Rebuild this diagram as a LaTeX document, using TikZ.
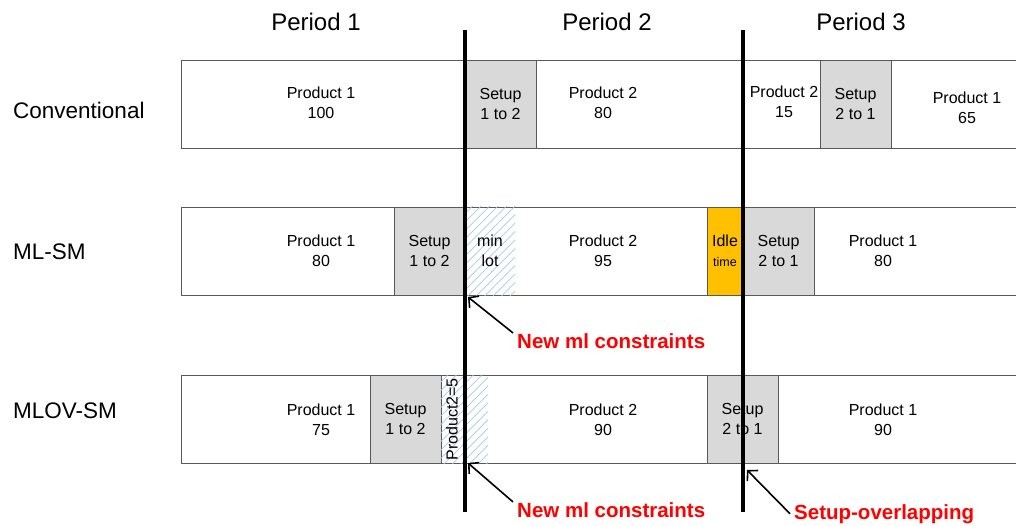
\documentclass[tikz,border=0pt]{standalone}
\usepackage{fontspec}
\setmainfont{Liberation Sans}
\usetikzlibrary{arrows.meta,patterns.meta}
\definecolor{setupc}{HTML}{D9D9D9}
\definecolor{idlec}{HTML}{FFC000}
\definecolor{hatchc}{HTML}{A9C6E6}
\definecolor{linec}{HTML}{595959}
\definecolor{notec}{HTML}{FF0000}
\tikzset{
  bar/.style={draw=linec,anchor=north west,minimum width=860pt,minimum height=88pt,inner sep=0pt},
  su/.style={draw=linec,fill=setupc,minimum width=71pt,minimum height=88pt,inner sep=0pt,align=center,font=\fontsize{16}{19.5}\selectfont},
  pr/.style={align=center,inner sep=0pt,font=\fontsize{16}{19.5}\selectfont},
  ht/.style={pattern={Lines[angle=45,distance=6pt,line width=0.7pt]},pattern color=hatchc,minimum height=88pt,inner sep=0pt,align=center,font=\fontsize{16}{19.5}\selectfont},
  per/.style={anchor=base,inner sep=0pt,font=\fontsize{24}{28}\selectfont},
  rowl/.style={anchor=base west,inner sep=0pt,font=\fontsize{22.5}{27}\selectfont},
  note/.style={anchor=base west,inner sep=0pt,text=notec,font=\fontsize{20.5}{24}\selectfont\bfseries},
  ar/.style={-{Straight Barb[length=7pt,width=15pt]},line width=1.6pt},
  vl/.style={line width=3.6pt}
}
\begin{document}
\begin{tikzpicture}[x=1pt,y=-1pt]
\useasboundingbox (0,0) rectangle (1016,526);
% headings and rows
\foreach \k/\x in {1/316,2/607,3/861} \node[per] (per\k) at (\x,31) {Period \k};
\foreach \n/\t/\y in {conv/Conventional/119,ml/ML-SM/260,mlov/MLOV-SM/418} \node[rowl] (lab\n) at (13,\y) {\t};
\foreach \n/\y in {conv/60,ml/207,mlov/375} \node[bar] (bar\n) at (181,\y) {};
% Conventional
\node[pr] (c1) at (321,103) {Product 1\\100};
\node[su] (c2) at (500.5,104) {Setup\\1 to 2};
\node[pr] (c3) at (603,103) {Product 2\\80};
\node[pr] (c4) at (784,102) {Product 2\\15};
\node[su] (c5) at (855.5,104) {Setup\\2 to 1};
\node[pr] (c6) at (967,108) {Product 1\\65};
% ML-SM
\node[pr] (m1) at (321,251) {Product 1\\80};
\node[su] (m2) at (429.5,251) {Setup\\1 to 2};
\node[ht,minimum width=50pt] (m3) at (490,251) {min\\lot};
\node[pr] (m4) at (603,251) {Product 2\\95};
\node[su,fill=idlec,minimum width=36pt] (m5) at (725,251) {Idle\\{\fontsize{12.5}{14}\selectfont time}};
\node[su] (m6) at (778.5,251) {Setup\\2 to 1};
\node[pr] (m7) at (883,251) {Product 1\\80};
% MLOV-SM
\node[pr] (o1) at (321,420) {Product 1\\75};
\node[su] (o2) at (405.5,419) {Setup\\1 to 2};
\node[ht,minimum width=47pt] (o3) at (464.5,419) {};
\node[pr,rotate=90] (o3t) at (452,419.5) {Product2=5};
\node[pr] (o4) at (603,420) {Product 2\\90};
\node[su] (o5) at (742.5,419) {Setup\\2 to 1};
\node[pr] (o6) at (883,420) {Product 1\\90};
% period borders
\coordinate (t1) at (465,30); \coordinate (b1) at (465,512);
\coordinate (t2) at (743,30); \coordinate (b2) at (743,512);
\draw[vl] (t1) -- (b1);
\draw[vl] (t2) -- (b2);
% notes
\node[note] (n1) at (517,348) {New ml constraints};
\node[note] (n2) at (517,517) {New ml constraints};
\node[note] (n3) at (794,519) {Setup-overlapping};
\coordinate (h1) at (468,297); \coordinate (h2) at (468,463); \coordinate (h3) at (747,470);
\draw[ar] ([xshift=-4pt]n1.north west) -- (h1);
\draw[ar] ([xshift=-4pt]n2.north west) -- (h2);
\draw[ar] ([xshift=-4pt]n3.west) -- (h3);
\end{tikzpicture}
\end{document}
